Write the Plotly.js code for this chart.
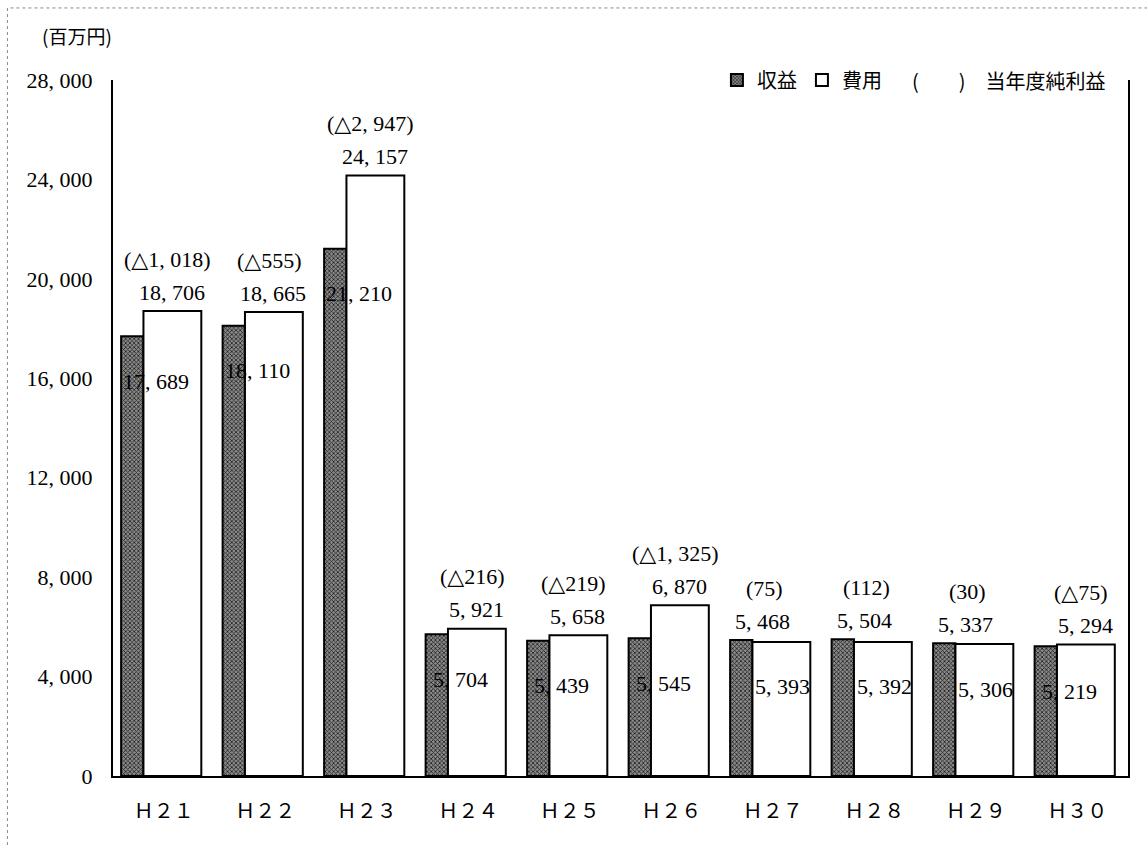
<!DOCTYPE html>
<html>
<head>
<meta charset="utf-8">
<script src="https://cdn.plot.ly/plotly-3.0.1.min.js"></script>
<style>
html,body{margin:0;padding:0;background:#fff;}
#chart{width:1147px;height:847px;}
</style>
</head>
<body>
<div id="chart"></div>
<script>
// ---- data ----
const categories = ['Ｈ２１','Ｈ２２','Ｈ２３','Ｈ２４','Ｈ２５','Ｈ２６','Ｈ２７','Ｈ２８','Ｈ２９','Ｈ３０'];
const revenue = [17689, 18110, 21210, 5704, 5439, 5545, 5468, 5504, 5337, 5219];   // 収益
const expense = [18706, 18665, 24157, 5921, 5658, 6870, 5393, 5392, 5306, 5294];   // 費用
const netProfit = [-1018, -555, -2947, -216, -219, -1325, 75, 112, 30, -75];       // 当年度純利益
const yTickVals = [0, 4000, 8000, 12000, 16000, 20000, 24000, 28000];
const yTickText = ['0', '4, 000', '8, 000', '12, 000', '16, 000', '20, 000', '24, 000', '28, 000'];
const unitLabel = '(百万円)';
const seriesNames = ['収益', '費用'];
const netLegend = '(　　)　当年度純利益';

// ---- helpers ----
const fmt = v => Math.abs(v).toLocaleString('en-US').replace(',', ', ');
const fmtNet = v => '(' + (v < 0 ? '△' : '') + fmt(v) + ')';

const numFont = {family: 'Liberation Serif, DejaVu Serif, serif', size: 22, color: '#000'};
const cjkFont = {family: 'Noto Sans CJK JP, sans-serif', size: 20, color: '#000'};

const traces = [
  {
    type: 'bar', name: seriesNames[0], x: categories, y: revenue,
    width: 0.22, offset: -0.42,
    marker: {color: '#8a8a8a', line: {color: '#000', width: 2},
             pattern: {shape: 'x', fgcolor: '#1e1e1e', bgcolor: '#8a8a8a', size: 3, solidity: 0.45}},
    hoverinfo: 'skip'
  },
  {
    type: 'bar', name: seriesNames[1], x: categories, y: expense,
    width: 0.57, offset: -0.2,
    marker: {color: '#ffffff', line: {color: '#000', width: 2}},
    hoverinfo: 'skip'
  }
];

const annotations = [];
categories.forEach((c, i) => {
  const hi = Math.max(revenue[i], expense[i]);
  const lo = Math.min(revenue[i], expense[i]);
  const revHigher = revenue[i] > expense[i];
  // larger value above bars
  annotations.push({x: c, y: hi, text: fmt(hi), showarrow: false, font: numFont,
    xshift: revHigher ? -10 : 8, yshift: 19, yanchor: 'middle'});
  // net profit above that
  annotations.push({x: c, y: hi, text: fmtNet(netProfit[i]), showarrow: false, font: numFont,
    xshift: revHigher ? -8 : 4, yshift: 52, yanchor: 'middle'});
  // smaller value inside the bars
  annotations.push({x: c, y: lo, text: fmt(lo), showarrow: false, font: numFont,
    xshift: revHigher ? 10 : -8, yshift: -45, yanchor: 'middle'});
});
annotations.push({xref: 'paper', yref: 'paper', x: -0.072, y: 1.064, xanchor: 'left', yanchor: 'middle',
  text: unitLabel, showarrow: false, font: {family: 'Noto Sans CJK JP, sans-serif', size: 19, color: '#000'}});
annotations.push({xref: 'paper', yref: 'paper', x: 0.785, y: 1.0, xanchor: 'left', yanchor: 'middle',
  text: netLegend, showarrow: false, font: cjkFont});

const layout = {
  width: 1147, height: 847,
  margin: {l: 113, r: 19, t: 80, b: 71},
  paper_bgcolor: '#fff', plot_bgcolor: '#fff',
  barmode: 'overlay',
  showlegend: true,
  legend: {orientation: 'h', x: 0.595, y: 1.0, xanchor: 'left', yanchor: 'middle',
           font: cjkFont, bgcolor: 'rgba(0,0,0,0)', itemwidth: 30, traceorder: 'normal'},
  xaxis: {type: 'category', showline: true, linecolor: '#000', linewidth: 2, ticks: '',
          showgrid: false, zeroline: false, ticklabelstandoff: 16,
          tickfont: {family: 'Noto Sans CJK JP, sans-serif', size: 20, color: '#000'}},
  yaxis: {range: [0, 28000], tickvals: yTickVals, ticktext: yTickText, showline: true, mirror: true,
          linecolor: '#000', linewidth: 2, ticks: '', showgrid: false, zeroline: false,
          ticklabelstandoff: 14, tickfont: numFont},
  annotations: annotations,
  shapes: [{type: 'rect', xref: 'paper', yref: 'paper', x0: -0.104, x1: 1.2, y0: -0.3, y1: 1.1035,
            line: {color: '#888', width: 1, dash: 'dot'}, layer: 'below'}]
};

Plotly.newPlot('chart', traces, layout, {staticPlot: true});
</script>
</body>
</html>
